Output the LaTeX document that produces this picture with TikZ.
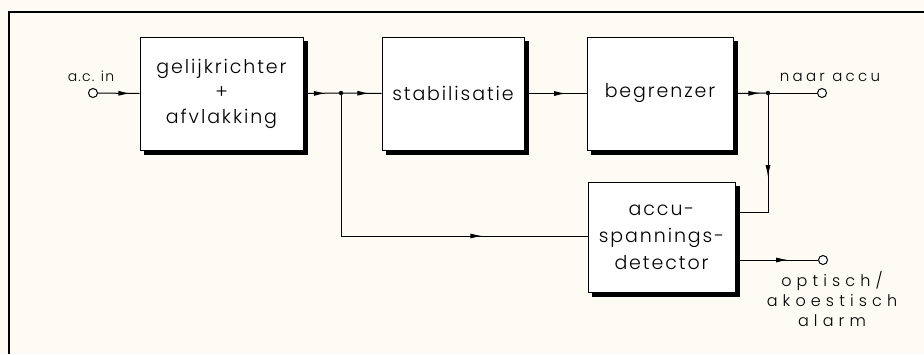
\documentclass[tikz,border=0pt]{standalone}
\usepackage{fontspec}
\setmainfont{Poppins}[UprightFont=* Light, LetterSpace=10]
\newfontfamily\lblfont{Poppins}[UprightFont=* Light, LetterSpace=22]
\newfontfamily\alarmfont{Poppins}[UprightFont=* Light, LetterSpace=32]
\usetikzlibrary{arrows.meta,decorations.markings,calc}
\definecolor{paper}{RGB}{253,251,243}
\tikzset{
  block/.style={draw, line width=1pt, fill=white, inner sep=0pt, align=center,
    font=\fontsize{19}{26}\selectfont},
  wire/.style={line width=1pt},
  terminal/.style={circle, draw, line width=1pt, fill=white, inner sep=0pt, minimum size=9pt},
  junction/.style={circle, fill=black, inner sep=0pt, minimum size=4.5pt},
  lbl/.style={font=\lblfont\fontsize{15}{20}\selectfont, align=center, inner sep=0pt},
  alarmlbl/.style={font=\alarmfont\fontsize{16}{20}\selectfont, align=center, inner sep=0pt},
  arrowat/.style={postaction={decorate}, decoration={markings,
    mark=at position #1 with {\arrow{Latex[length=12pt,width=5pt]}}}}
}
% heavy right and bottom edge behind a block
\newcommand\blockshade[1]{%
  \fill ($(#1.north east)+(0,4)$) rectangle ($(#1.south east)+(4,4)$);
  \fill ($(#1.south west)+(4,0)$) rectangle ($(#1.south east)+(4,4)$);}
\begin{document}
\begin{tikzpicture}[x=1pt, y=-1pt]
  \useasboundingbox[fill=paper] (0,0) rectangle (924,354);
  % frame
  \draw[line width=2.6pt] (9,354) -- (9,12) -- (924,12);

  % blocks
  \node[block, minimum width=163pt, minimum height=113pt] (rect) at (221.5,93.5)
    {gelijkrichter\\[-1pt]+\\[-1pt]afvlakking};
  \node[block, minimum width=142pt, minimum height=113pt] (stab) at (453,93.5) {stabilisatie};
  \node[block, minimum width=146pt, minimum height=113pt] (lim) at (660,93.5) {begrenzer};
  \node[block, minimum width=147pt, minimum height=110pt] (det) at (661.5,237)
    {accu-\\[1pt]spannings-\\[1pt]detector};
  \blockshade{rect}
  \blockshade{stab}
  \blockshade{lim}
  \blockshade{det}

  % terminals and junctions
  \node[terminal] (acin) at (93,93) {};
  \node[lbl, anchor=south, font=\lblfont\addfontfeatures{LetterSpace=8}\fontsize{14}{20}\selectfont]
    (acinl) at (91,82) {a.c. in};
  \node[terminal] (acc) at (822,93) {};
  \node[lbl, anchor=south] (accl) at (830,82) {naar accu};
  \node[terminal] (alarm) at (823,260) {};
  \node[alarmlbl, anchor=north] (alarml) at (832,271) {optisch/\\akoestisch\\alarm};
  \node[junction] (j1) at (341,93) {};
  \node[junction] (j2) at (768,93) {};
  \coordinate (bend1) at (341,236);
  \coordinate (bend2) at (768,212);

  % connections
  \draw[wire, arrowat=0.78] (acin) -- (rect.west);
  \draw[wire, arrowat=0.55] ($(rect.east)+(4,0)$) -- (j1.center);
  \draw[wire, arrowat=0.70] (j1.center) -- (stab.west);
  \draw[wire, arrowat=0.65] ($(stab.east)+(4,0)$) -- (lim.west);
  \draw[wire, arrowat=0.75] ($(lim.east)+(4,0)$) -- (j2.center);
  \draw[wire] (j2.center) -- (acc);
  \draw[wire, arrowat=0.73] (j1.center) -- (bend1) -- (det.west |- bend1);
  \draw[wire, arrowat=0.57] (j2.center) -- (bend2) -- ($(det.east |- bend2)+(4,0)$);
  \draw[wire, arrowat=0.62] ($(det.east |- alarm)+(4,0)$) -- (alarm);
\end{tikzpicture}
\end{document}
